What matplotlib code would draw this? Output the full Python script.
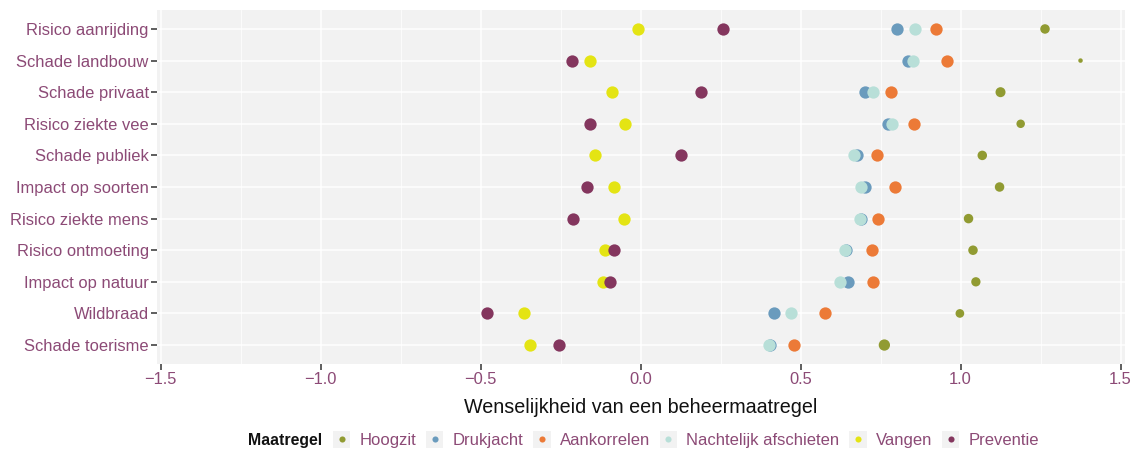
import matplotlib
matplotlib.use("Agg")
import matplotlib.pyplot as plt
from matplotlib.legend_handler import HandlerBase
from matplotlib.patches import Rectangle
from matplotlib.lines import Line2D
from matplotlib.ticker import MultipleLocator

plt.rcParams['font.family'] = ['Liberation Sans', 'DejaVu Sans']

categories = ['Risico aanrijding', 'Schade landbouw', 'Schade privaat', 'Risico ziekte vee',
              'Schade publiek', 'Impact op soorten', 'Risico ziekte mens', 'Risico ontmoeting',
              'Impact op natuur', 'Wildbraad', 'Schade toerisme']

hoogzit = [1.264, 1.375, 1.125, 1.188, 1.068, 1.122, 1.025, 1.039, 1.048, 0.998, 0.762]
drukjacht = [0.802, 0.836, 0.703, 0.772, 0.675, 0.700, 0.690, 0.643, 0.649, 0.416, 0.405]
aankorrelen = [0.923, 0.957, 0.784, 0.854, 0.738, 0.795, 0.743, 0.723, 0.727, 0.575, 0.479]
nachtelijk = [0.859, 0.853, 0.725, 0.787, 0.667, 0.689, 0.687, 0.639, 0.624, 0.470, 0.400]
vangen = [-0.009, -0.157, -0.088, -0.048, -0.143, -0.084, -0.053, -0.111, -0.117, -0.365, -0.344]
preventie = [0.257, -0.215, 0.189, -0.158, 0.125, -0.167, -0.212, -0.084, -0.095, -0.481, -0.255]

# point diameters (px) for Hoogzit; other series use a common size
hoogzit_diam = [9.5, 4.5, 10.0, 8.5, 9.5, 9.5, 9.5, 9.5, 9.3, 8.7, 11.3]
default_diam = 12.3

series_names = ['Hoogzit', 'Drukjacht', 'Aankorrelen', 'Nachtelijk afschieten', 'Vangen', 'Preventie']
series_values = [hoogzit, drukjacht, aankorrelen, nachtelijk, vangen, preventie]
series_colors = ['#919B32', '#6A9BBD', '#EC7A37', '#B8DFD8', '#E4E414', '#84365E']

label_color = '#8C4A76'

W, H = 1135, 450
fig = plt.figure(figsize=(W / 100, H / 100), dpi=100)
ax = fig.add_axes([157 / W, 1 - 364 / H, (1125 - 157) / W, (364 - 10) / H])
ax.set_facecolor('#F2F2F2')
for s in ax.spines.values():
    s.set_visible(False)

n = len(categories)
ypos = list(range(n - 1, -1, -1))

def px2s(d):
    return (d * 0.72) ** 2

for name, vals, col in zip(series_names, series_values, series_colors):
    if name == 'Hoogzit':
        sizes = [px2s(d) for d in hoogzit_diam]
    else:
        sizes = px2s(default_diam)
    ax.scatter(vals, ypos, s=sizes, color=col, linewidths=0, zorder=3)

ax.set_xlim(-1.511, 1.514)
ax.set_ylim(-0.6, n - 1 + 0.6)
ax.xaxis.set_major_locator(MultipleLocator(0.5))
ax.xaxis.set_minor_locator(MultipleLocator(0.25))
ax.set_yticks(ypos)
ax.set_yticklabels(categories)
ax.grid(which='major', color='white', linewidth=1.1, zorder=0)
ax.grid(which='minor', axis='x', color='white', linewidth=0.55, zorder=0)
ax.set_axisbelow(True)
ax.tick_params(axis='both', which='major', length=4, width=1.1, color='#333333',
               labelsize=11.9, labelcolor=label_color, pad=2)
ax.tick_params(axis='x', which='minor', length=0)
ax.set_xlabel('Wenselijkheid van een beheermaatregel', fontsize=14.2, color='#111111', labelpad=8)


class KeyHandler(HandlerBase):
    def create_artists(self, legend, orig_handle, xdescent, ydescent, width, height, fontsize, trans):
        side = width
        cy = height / 2 - ydescent
        rect = Rectangle((-xdescent, cy - side / 2), side, side, facecolor='#F2F2F2',
                         edgecolor='none', transform=trans)
        dot = Line2D([-xdescent + side / 2], [cy], marker='o', linestyle='none',
                     markersize=4.4, markerfacecolor=orig_handle.get_color(),
                     markeredgewidth=0, transform=trans)
        return [rect, dot]


handles = [Line2D([], [], color=c) for c in series_colors]
handler = KeyHandler()
leg = fig.legend(handles, series_names, loc='center left', bbox_to_anchor=(333 / W, 1 - 440 / H),
                 ncol=6, frameon=False, fontsize=12, handlelength=1.04, handleheight=1.04,
                 handletextpad=0.54, columnspacing=0.6, borderpad=0, borderaxespad=0,
                 handler_map={Line2D: handler})
for t in leg.get_texts():
    t.set_color(label_color)
fig.text(248 / W, 1 - 440 / H, 'Maatregel', fontsize=11.4, fontweight='bold',
         color='#111111', ha='left', va='center')

fig.savefig('out.png', dpi=100)
